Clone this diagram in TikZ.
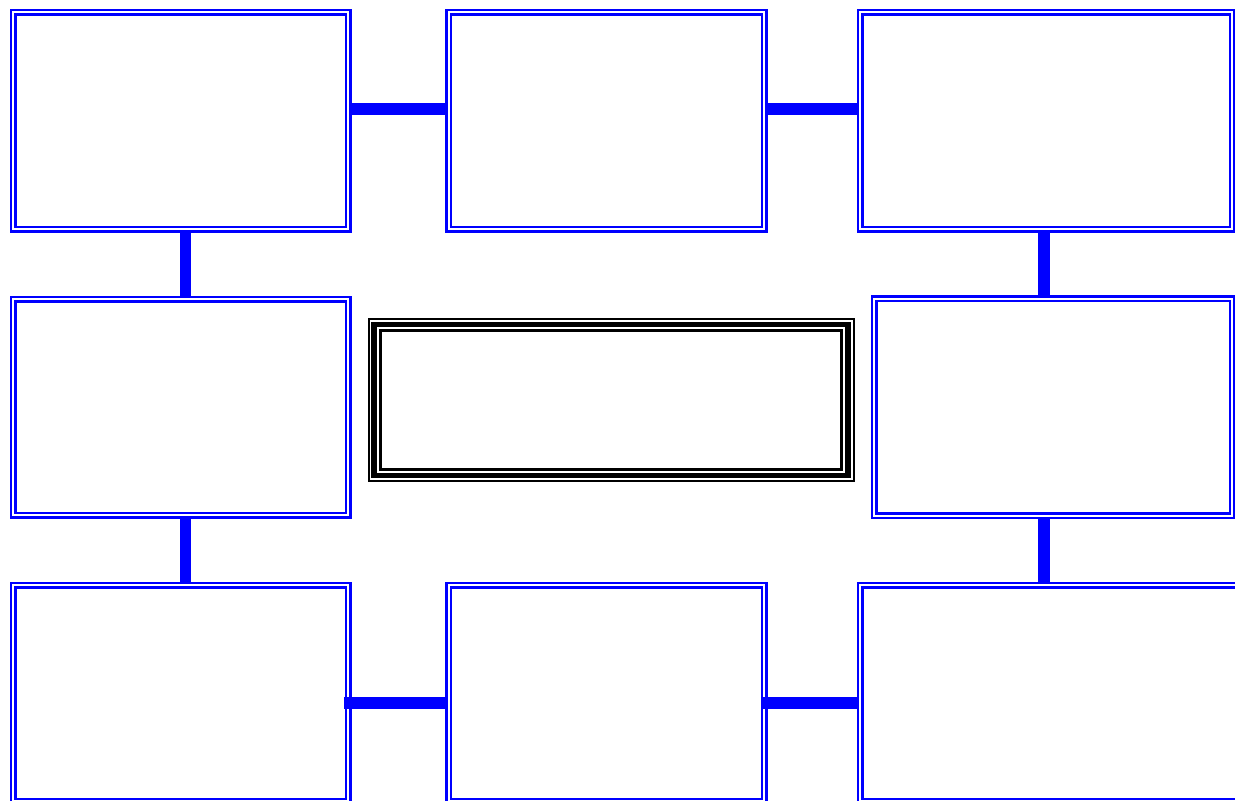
\documentclass[tikz,border=0pt]{standalone}
\usetikzlibrary{calc}
\tikzset{
  box/.style={draw=blue, line width=2.4pt, double=white, double distance=2pt,
              rectangle, inner sep=0pt, anchor=north west},
  conn/.style={draw=blue, line width=11.5pt},
}
\begin{document}
\begin{tikzpicture}[x=1pt,y=-1pt]
\useasboundingbox (0,0) rectangle (1235,801);
\fill[white] (0,0) rectangle (1235,801);
% boxes
\node[box, minimum width=335pt, minimum height=217pt] (A) at (12,11) {};
\node[box, minimum width=315.5pt, minimum height=217pt] (B) at (447.5,11) {};
\node[box, minimum width=372pt, minimum height=217pt] (C) at (859,11) {};
\node[box, minimum width=335pt, minimum height=216pt] (D) at (12,298) {};
\node[box, minimum width=358pt, minimum height=217pt] (E) at (873,297.5) {};
\node[box, minimum width=335pt, minimum height=216pt] (F) at (12,584) {};
\node[box, minimum width=315.5pt, minimum height=216pt] (G) at (447.5,584) {};
\node[box, minimum width=390pt, minimum height=216pt] (H) at (859,584) {};
% centre box with triple border
\node[draw=black, line width=2pt, rectangle, inner sep=0pt, anchor=north west,
      minimum width=485pt, minimum height=162pt] (M) at (367.5,318) {};
\draw[black, line width=5.5pt] ($(M.north west)+(6.5,6.5)$) rectangle ($(M.south east)+(-6.5,-6.5)$);
\draw[black, line width=2.4pt] ($(M.north west)+(13,12.5)$) rectangle ($(M.south east)+(-13,-12.5)$);
% connectors
\draw[conn] ([yshift=11.5pt]A.east) -- ([yshift=11.5pt]A.east -| B.west);
\draw[conn] ([yshift=11.5pt]B.east) -- ([yshift=11.5pt]B.east -| C.west);
\draw[conn] ([xshift=5pt]A.south) -- ([xshift=5pt]A.south |- D.north);
\draw[conn] ([xshift=5pt]D.south) -- ([xshift=5pt]D.south |- F.north);
\draw[conn] ([xshift=-2pt]C.south) -- ([xshift=-2pt]C.south |- E.north);
\draw[conn] ([xshift=-2pt]C.south |- E.south) -- ([xshift=-2pt]C.south |- H.north);
\draw[conn] ([yshift=-10pt,xshift=-5pt]F.east) -- ([yshift=-10pt]F.east -| G.west);
\draw[conn] ([yshift=-10pt,xshift=-3pt]G.east) -- ([yshift=-10pt]G.east -| H.west);
\end{tikzpicture}
\end{document}
